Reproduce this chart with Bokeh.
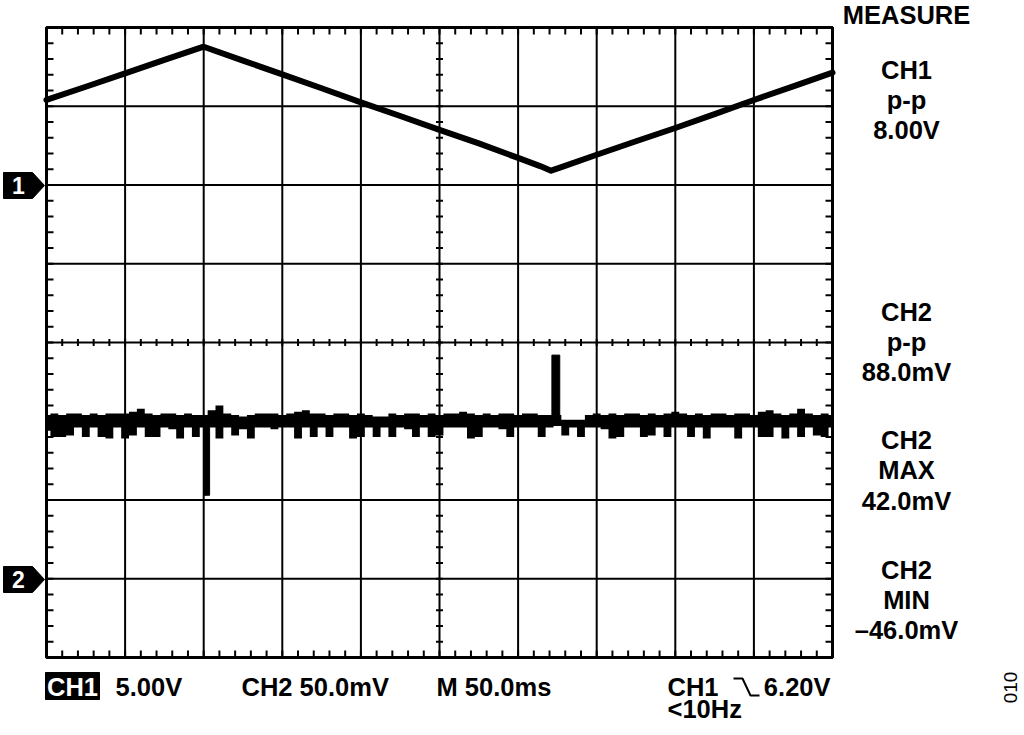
import numpy as np
from bokeh.plotting import figure
from bokeh.models import Range1d, Label, ColumnDataSource
from bokeh.embed import file_html
from bokeh.resources import INLINE

# ---------------- data ----------------
# CH1: triangle wave, 5.00 V/div, time in ms (50 ms/div)
ch1_time_ms = [0, 25, 50, 75, 100, 125, 150, 175, 200, 225, 250, 275, 300,
               314, 321, 328, 350, 375, 400, 425, 450, 475, 500]
ch1_volts = [5.40, 6.24, 7.09, 7.94, 8.78, 7.90, 7.02, 6.14, 5.25, 4.38, 3.50,
             2.64, 1.72, 1.20, 0.91, 1.15, 1.92, 2.78, 3.62, 4.50, 5.40, 6.26, 7.13]

# CH2: noise band, 50.0 mV/div (upper / lower envelope in mV every 5 ms)
ch2_time_ms = list(range(0, 501, 5))
ch2_upper_mv = [104, 105, 104, 105, 105, 104, 105, 104, 105, 105,
                105, 106, 108, 105, 104, 105, 105, 104, 105, 104,
                104, 107, 110, 105, 104, 103, 104, 105, 105, 105,
                104, 105, 106, 107, 105, 105, 104, 105, 105, 104,
                105, 104, 103, 103, 105, 104, 105, 105, 104, 105,
                104, 105, 105, 106, 105, 104, 105, 104, 105, 105,
                104, 105, 105, 104, 104, 104, 101, 101, 101, 104,
                105, 104, 105, 104, 105, 105, 104, 105, 104, 105,
                106, 105, 104, 105, 104, 105, 105, 104, 105, 105,
                104, 106, 107, 105, 104, 105, 108, 105, 104, 105,
                104]
ch2_lower_mv = [94, 90, 90, 91, 96, 90, 96, 90, 89, 96,
                89, 91, 96, 90, 90, 96, 95, 89, 96, 90,
                96, 96, 89, 96, 91, 95, 89, 96, 96, 95,
                96, 96, 89, 96, 90, 96, 90, 96, 96, 89,
                90, 96, 90, 96, 90, 96, 95, 90, 96, 90,
                91, 96, 96, 96, 89, 90, 96, 96, 95, 90,
                96, 96, 96, 90, 96, 97, 91, 96, 90, 96,
                96, 95, 89, 90, 96, 96, 90, 91, 96, 90,
                96, 96, 90, 96, 89, 96, 96, 96, 89, 96,
                96, 90, 90, 96, 89, 96, 90, 96, 91, 90,
                96]
# CH2 glitches: time, low end, high end (mV)
ch2_spike_time_ms = [102, 324]
ch2_spike_low_mv = [53, 100]
ch2_spike_high_mv = [96, 142]

measure_title = "MEASURE"
measure_blocks = [["CH1", "p-p", "8.00V"],
                  ["CH2", "p-p", "88.0mV"],
                  ["CH2", "MAX", "42.0mV"],
                  ["CH2", "MIN", "\u201346.0mV"]]
status_ch1 = ["CH1", "5.00V"]
status_ch2 = "CH2 50.0mV"
status_time = "M 50.0ms"
trigger_text = ["CH1", "6.20V", "<10Hz"]
figure_id = "010"

# ---------------- layout (page pixels; canvas sits at page 0,0) ----------------
W, H = 1020, 732
FL, FR, FT, FB = 46, 832, 27, 657      # scope graticule edges
XMAX, YDIV = 500, 8                    # 10 div x 50 ms, 8 vertical divisions
CH1_GND_DIV, CH1_VDIV = 6, 5.0         # CH1 marker at 6 div, 5 V/div
CH2_GND_DIV, CH2_MVDIV = 1, 50.0       # CH2 marker at 1 div, 50 mV/div


def dx(px):
    return (px - FL) / (FR - FL) * XMAX


def dy(py):
    return (FB - py) / (FB - FT) * YDIV


PXX = XMAX / (FR - FL)   # ms per pixel
PXY = YDIV / (FB - FT)   # div per pixel

y_lo, y_hi = dy(H), dy(0)
p = figure(width=W, height=H, x_range=Range1d(dx(0), dx(W)), y_range=Range1d(y_lo, y_hi),
           x_axis_location=None, y_axis_location=None, toolbar_location=None,
           output_backend="svg", min_border=0)
p.min_border_left = p.min_border_right = p.min_border_top = p.min_border_bottom = 0
p.outline_line_color = None
p.background_fill_color = "white"
p.border_fill_color = "white"
p.xgrid.visible = False
p.ygrid.visible = False
p.extra_y_ranges = {
    "ch1": Range1d((y_lo - CH1_GND_DIV) * CH1_VDIV, (y_hi - CH1_GND_DIV) * CH1_VDIV),
    "ch2": Range1d((y_lo - CH2_GND_DIV) * CH2_MVDIV, (y_hi - CH2_GND_DIV) * CH2_MVDIV),
}

# graticule
vx = list(range(50, XMAX, 50))
hy = list(range(1, YDIV))
p.segment(x0=vx, y0=[0] * len(vx), x1=vx, y1=[YDIV] * len(vx), line_width=2, line_color="black")
p.segment(x0=[0] * len(hy), y0=hy, x1=[XMAX] * len(hy), y1=hy, line_width=2, line_color="black")

xt = [float(v) for v in np.arange(0, XMAX + 1, 10)]
yt = [float(v) for v in np.round(np.arange(0, YDIV + 0.01, 0.2), 2)]
TX, TY = 7 * PXX, 7 * PXY
n_x, n_y = len(xt), len(yt)
# inward ticks on frame
p.segment(x0=[0] * n_y, y0=yt, x1=[TX] * n_y, y1=yt, line_width=2, line_color="black")
p.segment(x0=[XMAX - TX] * n_y, y0=yt, x1=[XMAX] * n_y, y1=yt, line_width=2, line_color="black")
p.segment(x0=xt, y0=[YDIV - TY] * n_x, x1=xt, y1=[YDIV] * n_x, line_width=2, line_color="black")
p.segment(x0=xt, y0=[0] * n_x, x1=xt, y1=[TY] * n_x, line_width=2, line_color="black")
# centre cross ticks
CX_T, CY_T = 3.5 * PXX, 3.5 * PXY
p.segment(x0=xt, y0=[YDIV / 2 - CY_T] * n_x, x1=xt, y1=[YDIV / 2 + CY_T] * n_x,
          line_width=2, line_color="black")
p.segment(x0=[XMAX / 2 - CX_T] * n_y, y0=yt, x1=[XMAX / 2 + CX_T] * n_y, y1=yt,
          line_width=2, line_color="black")
# frame
p.quad(left=[0], right=[XMAX], bottom=[0], top=[YDIV], fill_alpha=0,
       line_width=3, line_color="black")

# traces
p.line(ch1_time_ms, ch1_volts, y_range_name="ch1", line_width=6,
       line_color="black", line_join="round", line_cap="round")
p.varea_step(x=ch2_time_ms, y1=ch2_lower_mv, y2=ch2_upper_mv, step_mode="center",
             y_range_name="ch2", fill_color="black")
spikes = ColumnDataSource(dict(t=ch2_spike_time_ms, lo=ch2_spike_low_mv,
                               hi=ch2_spike_high_mv, w=[3.5, 5.0]))
p.vbar(x="t", width="w", bottom="lo", top="hi", source=spikes,
       y_range_name="ch2", fill_color="black", line_color="black")

FONT = "Liberation Sans"
FS = 25.5


def lab(px, py, text, align="center", size=FS, color="black", bold=True,
        angle=0.0, baseline="alphabetic", shift=True):
    # py is the intended baseline; Bokeh draws the label ~size/3 lower
    yy = py - size / 3.0 if shift else py
    p.add_layout(Label(x=dx(px), y=dy(yy), text=text, text_align=align,
                       text_baseline=baseline, text_font=FONT,
                       text_font_size=f"{size}px",
                       text_font_style="bold" if bold else "normal",
                       text_color=color, angle=angle))


# channel markers
for cy, digit in [(185, "1"), (579, "2")]:
    xs = [dx(3), dx(32), dx(44), dx(32), dx(3)]
    ys = [dy(cy - 13), dy(cy - 13), dy(cy), dy(cy + 13), dy(cy + 13)]
    p.patch(xs, ys, fill_color="black", line_color="black", line_width=1)
    lab(18, cy + 8, digit, size=23, color="white")

# measurement column
CX = 906
lab(CX, 23, measure_title)
rows = [78, 108, 138, 320, 350, 380, 448, 478, 509, 578, 608, 638]
k = 0
for block in measure_blocks:
    for t in block:
        lab(CX, rows[k], t)
        k += 1

# status line
p.patch([dx(45), dx(99), dx(99), dx(45)], [dy(672), dy(672), dy(699), dy(699)],
        fill_color="black", line_color="black")
lab(72, 695, status_ch1[0], color="white")
lab(115, 695, status_ch1[1], align="left")
lab(241, 695, status_ch2, align="left")
lab(436, 695, status_time, align="left")
lab(667, 695, trigger_text[0], align="left")
lab(830, 695, trigger_text[1], align="right")
lab(667, 717, trigger_text[2], align="left")
trig_x = [dx(733), dx(742), dx(750), dx(759)]
trig_y = [dy(678), dy(678), dy(695), dy(695)]
p.line(trig_x, trig_y, line_width=2, line_color="black")
lab(1010, 687, figure_id, size=19, bold=False, angle=np.pi / 2, baseline="middle",
    shift=False)

open("out.html", "w").write(file_html(p, INLINE))
